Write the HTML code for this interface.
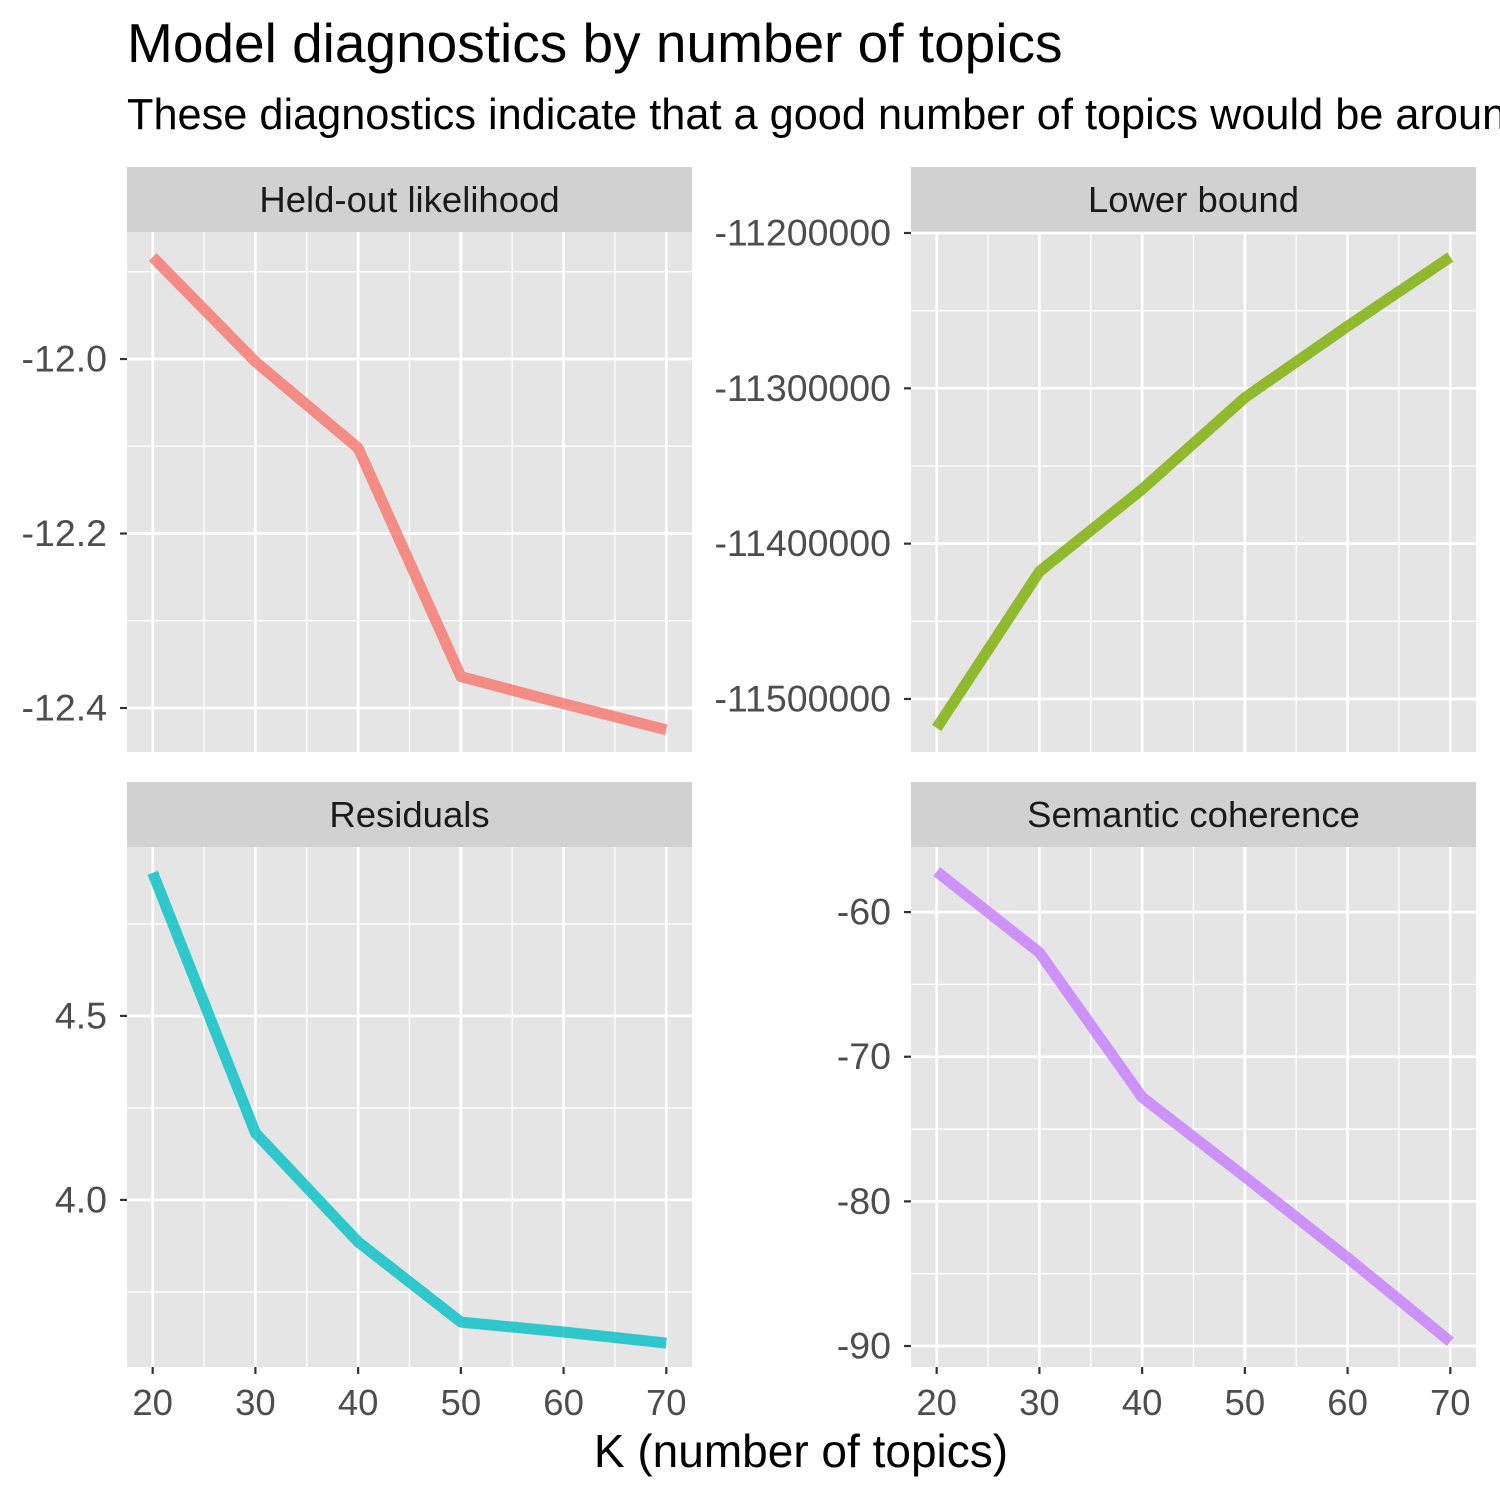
<!DOCTYPE html>
<html><head><meta charset="utf-8"><style>
body{margin:0;background:#fff;}
svg{display:block;font-family:"Liberation Sans",Arial,sans-serif;}
</style></head><body>
<svg id="chart" width="1500" height="1500" viewBox="0 0 1500 1500">
<text x="127" y="62" font-size="55" fill="#000">Model diagnostics by number of topics</text>
<text x="127" y="129" font-size="43.3" fill="#000">These diagnostics indicate that a good number of topics would be around 60</text>
<text x="801" y="1467" font-size="46" fill="#000" text-anchor="middle">K (number of topics)</text>
</svg>
<script>
const kValues = [20, 30, 40, 50, 60, 70];
const heldOut = [-11.883, -12.003, -12.102, -12.364, -12.395, -12.425];
const lowerBound = [-11518700, -11418000, -11365000, -11306000, -11260000, -11215500];
const residuals = [4.889, 4.182, 3.886, 3.668, 3.641, 3.611];
const semCoh = [-57.2, -62.8, -72.8, -78.3, -83.9, -89.7];
const xTicks = [20, 30, 40, 50, 60, 70];
const heldTicks = [-12.0, -12.2, -12.4];
const heldTickLabels = ["-12.0", "-12.2", "-12.4"];
const lbTicks = [-11200000, -11300000, -11400000, -11500000];
const lbTickLabels = ["-11200000", "-11300000", "-11400000", "-11500000"];
const resTicks = [4.0, 4.5];
const resTickLabels = ["4.0", "4.5"];
const semTicks = [-60, -70, -80, -90];
const semTickLabels = ["-60", "-70", "-80", "-90"];
const panelTitles = ["Held-out likelihood", "Lower bound", "Residuals", "Semantic coherence"];

const NS = "http://www.w3.org/2000/svg";
const svg = document.getElementById("chart");
function el(tag, attrs, parent) {
  const e = document.createElementNS(NS, tag);
  for (const k in attrs) e.setAttribute(k, attrs[k]);
  (parent || svg).appendChild(e);
  return e;
}
const panels = [
  {x0:127,x1:692,y0:232,y1:752,strip:167,vals:heldOut,ticks:heldTicks,labels:heldTickLabels,dom:[-12.4504,-11.8544],color:"#F8766D",showX:false,slug:"held-out"},
  {x0:911,x1:1476,y0:232,y1:752,strip:167,vals:lowerBound,ticks:lbTicks,labels:lbTickLabels,dom:[-11534128,-11199356],color:"#7CAE00",showX:false,slug:"lower-bound"},
  {x0:127,x1:692,y0:847,y1:1367,strip:782,vals:residuals,ticks:resTicks,labels:resTickLabels,dom:[3.546,4.959],color:"#00BFC4",showX:true,slug:"residuals"},
  {x0:911,x1:1476,y0:847,y1:1367,strip:782,vals:semCoh,ticks:semTicks,labels:semTickLabels,dom:[-91.45,-55.5],color:"#C77CFF",showX:true,slug:"semantic-coherence"}
];
const xDom = [17.5, 72.5];
panels.forEach((p, i) => {
  const g = el("g", {});
  
  
  const xs = v => p.x0 + (v - xDom[0]) / (xDom[1] - xDom[0]) * (p.x1 - p.x0);
  const ys = v => p.y1 - (v - p.dom[0]) / (p.dom[1] - p.dom[0]) * (p.y1 - p.y0);
  const strip = el("rect", {x:p.x0,y:p.strip,width:p.x1-p.x0,height:p.y0-p.strip,fill:"#D1D1D1"}, g);
  
  
  const st = el("text", {x:(p.x0+p.x1)/2,y:(p.strip+p.y0)/2+12.5,"font-size":"36.5","text-anchor":"middle",fill:"#1A1A1A"}, g);
  st.textContent = panelTitles[i];
  
  
  el("rect", {x:p.x0,y:p.y0,width:p.x1-p.x0,height:p.y1-p.y0,fill:"#E5E5E5"}, g);
  for (let k = 0; k < xTicks.length - 1; k++) {
    const xm = xs((xTicks[k] + xTicks[k+1]) / 2);
    el("line", {x1:xm,x2:xm,y1:p.y0,y2:p.y1,stroke:"#fff","stroke-width":1.3}, g);
  }
  const step = p.ticks[1] - p.ticks[0];
  for (let k = -2; k < p.ticks.length + 2; k++) {
    const v = p.ticks[0] + step * (k + 0.5);
    const y = ys(v);
    if (y > p.y0 && y < p.y1) el("line", {x1:p.x0,x2:p.x1,y1:y,y2:y,stroke:"#fff","stroke-width":1.3}, g);
  }
  xTicks.forEach(t => {
    const x = xs(t);
    el("line", {x1:x,x2:x,y1:p.y0,y2:p.y1,stroke:"#fff","stroke-width":2.7}, g);
    if (p.showX) {
      el("line", {x1:x,x2:x,y1:p.y1,y2:p.y1+7,stroke:"#333","stroke-width":2.2}, g);
      const tl = el("text", {x:x,y:p.y1+48,"font-size":"36.5","text-anchor":"middle",fill:"#4D4D4D"}, g);
      tl.textContent = t;
      
      
    }
  });
  p.ticks.forEach((t, k) => {
    const y = ys(t);
    el("line", {x1:p.x0,x2:p.x1,y1:y,y2:y,stroke:"#fff","stroke-width":2.7}, g);
    el("line", {x1:p.x0-7,x2:p.x0,y1:y,y2:y,stroke:"#333","stroke-width":2.2}, g);
    const tl = el("text", {x:p.x0-20,y:y+12.5,"font-size":"37.5","text-anchor":"end",fill:"#4D4D4D"}, g);
    tl.textContent = p.labels[k];
    
    
  });
  const pts = kValues.map((k, j) => xs(k).toFixed(1) + "," + ys(p.vals[j]).toFixed(1)).join(" ");
  const line = el("polyline", {points:pts,fill:"none",stroke:p.color,"stroke-width":11,"stroke-opacity":0.8,"stroke-linejoin":"round"}, g);
  
  
});
</script>
</body></html>
